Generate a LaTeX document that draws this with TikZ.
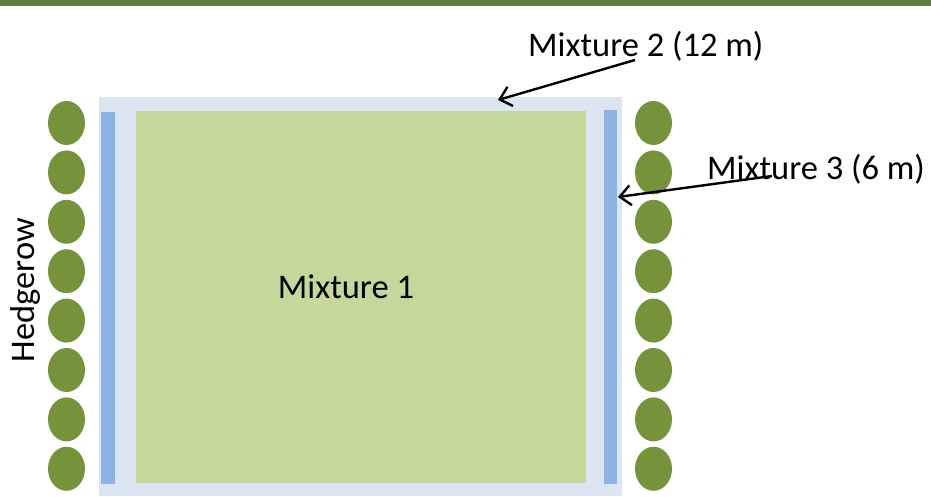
\documentclass[tikz,border=0pt]{standalone}
\usepackage{fontspec}
\setmainfont{Carlito}
\usetikzlibrary{arrows.meta}
\definecolor{barGreen}{HTML}{5E7C3D}
\definecolor{fieldGreen}{HTML}{C4D89B}
\definecolor{marginBlue}{HTML}{DCE6F2}
\definecolor{stripBlue}{HTML}{8DB3E2}
\definecolor{bushGreen}{HTML}{76933C}
\tikzset{
  bush/.style={fill=bushGreen, draw=none},
  label34/.style={font=\fontsize{34.5}{40}\selectfont, text=black, inner sep=0pt},
  pointer/.style={draw=black, line width=2.4pt, -{Straight Barb[length=11pt,width=20pt,line width=2.4pt]}}
}
\begin{document}
\begin{tikzpicture}[x=1pt,y=-1pt]
  \useasboundingbox (0,0) rectangle (931,497);
  \fill[white] (0,0) rectangle (931,497);
  % top bar
  \fill[barGreen] (0,0) rectangle (931,6.5);
  % margin band (Mixture 2)
  \fill[marginBlue] (99,97) rectangle (622,496);
  % inner field (Mixture 1)
  \fill[fieldGreen] (136,111) rectangle (586,483);
  % side strips (Mixture 3)
  \fill[stripBlue] (101,112) rectangle (115,484);
  \fill[stripBlue] (604,110) rectangle (617,484);
  % hedgerow bushes
  \foreach \i in {0,...,7} {
    \path[bush] (66.5,123+49.4*\i) ellipse [x radius=18.5, y radius=22];
    \path[bush] (653.5,123+49.4*\i) ellipse [x radius=18.5, y radius=22];
  }
  % labels
  \node[label34] (m1) at (346,287) {Mixture 1};
  \node[label34, rotate=90] (hedge) at (25,290) {Hedgerow};
  \node[label34, anchor=base west] (m2) at (528,57) {Mixture 2 (12 m)};
  \node[label34, anchor=base west] (m3) at (707,180) {Mixture 3 (6 m)};
  % arrows
  \coordinate (m2from) at (635,60);
  \coordinate (m2to) at (498,100);
  \coordinate (m3from) at (772,176);
  \coordinate (m3to) at (618,197);
  \draw[pointer] (m2from) -- (m2to);
  \draw[pointer] (m3from) -- (m3to);
\end{tikzpicture}
\end{document}
